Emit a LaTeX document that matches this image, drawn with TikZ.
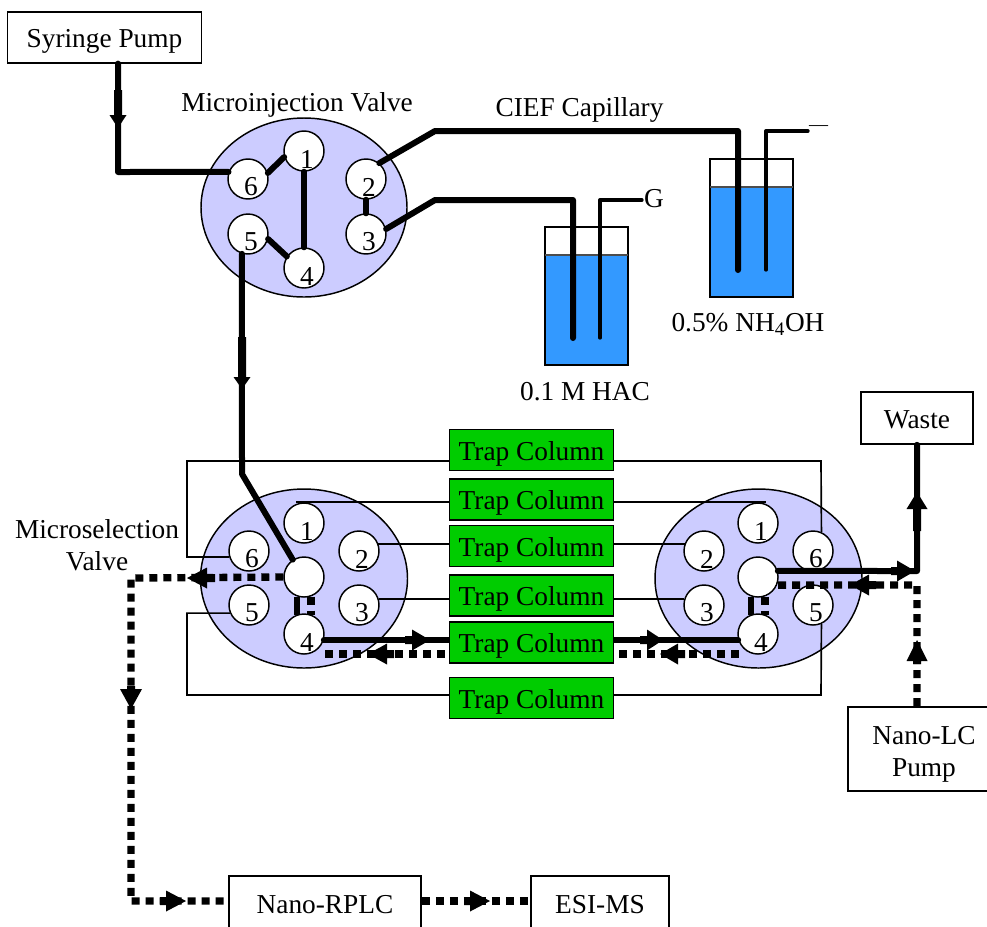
\documentclass[tikz,border=0pt]{standalone}
\usepackage{fontspec}
\setmainfont{Liberation Serif}
\usetikzlibrary{calc}
\definecolor{valvefill}{RGB}{204,204,255}
\definecolor{trapgreen}{RGB}{0,204,0}
\definecolor{waterblue}{RGB}{51,153,255}
\tikzset{
  txt/.style={font=\fontsize{20.5}{24}\selectfont, inner sep=0pt, text=black},
  box/.style={txt, draw=black, line width=1.2pt, fill=white, minimum width=#1, inner sep=0pt, align=center},
  onel/.style={text height=19.4pt, text depth=4.4pt},
  valve/.style={draw=black, line width=1.1pt, fill=valvefill},
  portc/.style={circle, draw=black, line width=1.1pt, fill=white, minimum size=30pt, inner sep=0pt},
  digit/.style={txt},
  trap/.style={txt, onel, draw=black, line width=1.2pt, fill=trapgreen, minimum width=123pt, minimum height=30.5pt},
  thinl/.style={draw=black, line width=1.25pt},
  thickl/.style={draw=black, line width=4.5pt, line join=round, line cap=round},
  elec/.style={draw=black, line width=2.5pt, line join=round, line cap=round},
  dotl/.style={draw=black, line width=5.5pt, dash pattern=on 6pt off 4.5pt, line join=round},
  dotshort/.style={draw=black, line width=5.5pt, dash pattern=on 6pt off 4.5pt},
  beaker/.style={draw=black, line width=1.5pt},
}
% port: name, x, y, digit
\newcommand{\portnode}[4]{%
  \node[portc] (#1) at (#2,#3) {};
  \node[digit] (#1d) at (#2+3,#3+8) {#4};
}
% arrow tip: x, y, angle, shaft length, head length, half width
\newcommand{\tipmark}[6]{%
  \fill[black, shift={(#1,#2)}, rotate=#3] (0,0) -- (-#5,#6) -- (-#5,-#6) -- cycle
     (-#5,-4) rectangle (-#5-#4,4);
}
\begin{document}
\begin{tikzpicture}[x=0.75pt, y=-0.75pt]
\useasboundingbox (0,0) rectangle (987,926);
\clip (0,0) rectangle (987,926);

% named bends
\coordinate (p1) at (118,172);
\coordinate (capa) at (435,131);
\coordinate (capb) at (738,131);
\coordinate (capc) at (738,270);
\coordinate (capd) at (435,200);
\coordinate (cape) at (573,200);
\coordinate (capf) at (573,338);
\coordinate (ela) at (766,270);
\coordinate (elb) at (766,131);
\coordinate (elc) at (808,131);
\coordinate (eld) at (600,338);
\coordinate (ele) at (600,200);
\coordinate (elf) at (642,200);
\coordinate (bend) at (242,474);
\coordinate (lA) at (187,461);
\coordinate (rA) at (821,461);
\coordinate (lB) at (187,695);
\coordinate (rB) at (821,695);
\coordinate (bone) at (296,502);
\coordinate (cone) at (766,502);
\coordinate (dL) at (325,654);
\coordinate (dR) at (745,654);
\coordinate (bL) at (131,578);
\coordinate (bD) at (131,901);
\coordinate (rC) at (917,571);
\coordinate (rD) at (917,585);

% beakers
\fill[waterblue] (545,255) rectangle (628,365);
\draw[beaker] (545,227) rectangle (628,365);
\draw[line width=1pt, black!70] (545,255) -- (628,255);
\fill[waterblue] (710,187) rectangle (793,297);
\draw[beaker] (710,159) rectangle (793,297);
\draw[line width=1pt, black!70] (710,187) -- (793,187);

% valve bodies
\draw[valve] (304,207.5) ellipse [x radius=103, y radius=89.5];
\draw[valve] (304,578.5) ellipse [x radius=103.5, y radius=89.5];
\draw[valve] (758.5,578.5) ellipse [x radius=103.5, y radius=89.5];

% boxes
\node[box=145.5pt, onel, minimum height=38pt] (syr) at (104.5,37.5) {Syringe Pump};
\node[box=84pt, onel, minimum height=39pt] (waste) at (917,418) {Waste};
\node[box=114pt, minimum height=63pt] (nlc) at (924,749) {\rule{0pt}{22pt}Nano-LC\\Pump};
\node[box=144pt, onel, minimum height=40.5pt] (rplc) at (325,903) {Nano-RPLC};
\node[box=103.5pt, onel, minimum height=40.5pt] (esi) at (600,903) {ESI-MS};

\path (531.5,450) coordinate (t1c) (531.5,499.5) coordinate (t2c) (531.5,546) coordinate (t3c)
      (531.5,595.5) coordinate (t4c) (531.5,642.5) coordinate (t5c) (531.5,698) coordinate (t6c);

% ports
\portnode{a1}{304}{151}{1}
\portnode{a2}{366}{179}{2}
\portnode{a3}{366}{234}{3}
\portnode{a4}{304}{268}{4}
\portnode{a5}{248}{234}{5}
\portnode{a6}{248}{179}{6}
\portnode{b1}{304}{523}{1}
\portnode{b2}{359}{551}{2}
\portnode{b3}{359}{605}{3}
\portnode{b4}{304}{634}{4}
\portnode{b5}{249}{605}{5}
\portnode{b6}{249}{551}{6}
\node[portc] (bc) at (304,577) {};
\portnode{c1}{758}{523}{1}
\portnode{c2}{704}{551}{2}
\portnode{c3}{704}{605}{3}
\portnode{c4}{758}{634}{4}
\portnode{c5}{813}{605}{5}
\portnode{c6}{813}{551}{6}
\node[portc] (cc) at (758,577) {};

% thin column plumbing
\draw[thinl] (b6.197) -| (lA) -- (rA) -- (c6.66);
\draw[thinl] (bone) -- (cone);
\draw[thinl] (b2.20) -- (c2.160);
\draw[thinl] (b3.17) -- (c3.163);
\draw[thinl] (b5.203) -| (lB) -- (rB) -- (c5.-66);

% thick flow
\draw[thickl] (b4.-17) -- (c4.197);
\draw[dotl] (dL) -- (dR);

% trap columns
\node[trap] (t1) at (t1c) {Trap Column};
\node[trap] (t2) at (t2c) {Trap Column};
\node[trap] (t3) at (t3c) {Trap Column};
\node[trap] (t4) at (t4c) {Trap Column};
\node[trap] (t5) at (t5c) {Trap Column};
\node[trap] (t6) at (t6c) {Trap Column};

% microinjection valve connections
\draw[thickl] (syr.south -| p1) -- (p1) -- (a6.160);
\draw[thickl] (a6.17) -- (a1.197);
\draw[thickl] (a1.south) -- (a4.north);
\draw[thickl] (a5.-14) -- (a4.146);
\draw[thickl] (a2.south) -- (a3.north);
\draw[thickl] (a2.50) -- (capa) -- (capb) -- (capc);
\draw[thickl] (a3.14) -- (capd) -- (cape) -- (capf);
\draw[elec] (ela) -- (elb) -- (elc);
\draw[elec] (eld) -- (ele) -- (elf);
\draw[thickl] (a5.-107) -- (bend) -- (bc.123);

% selection valve internal links
\draw[thickl, line cap=butt] (bc.-110) -- (b4.110);
\draw[dotshort] (bc.-70) -- (b4.70);
\draw[thickl, line cap=butt] (cc.-110) -- (c4.110);
\draw[dotshort] (cc.-70) -- (c4.70);

% outgoing paths
\draw[dotl] (bc.west) -- (bL) -- (bD) -- (bD -| rplc.west);
\draw[dotl] (bD -| rplc.east) -- (bD -| esi.west);
\draw[thickl] (cc.17) -- (rC) -- (rC |- waste.south);
\draw[dotl] (rD |- nlc.north) -- (rD) -- (cc.-23);

% arrow heads
\tipmark{118}{128}{-90}{25}{13}{8.5}
\tipmark{242}{389}{-90}{40}{12}{8.5}
\tipmark{430}{640}{0}{7}{18}{10.5}
\tipmark{663}{640}{0}{7}{16}{10.5}
\tipmark{368}{654}{180}{7}{19}{10.5}
\tipmark{660}{654}{180}{7}{18}{10.5}
\tipmark{187}{578}{180}{8}{20}{10.5}
\tipmark{131}{709}{-90}{3}{20}{11}
\tipmark{186}{901}{0}{6}{20}{10.5}
\tipmark{490}{901}{0}{6}{20}{10.5}
\tipmark{915}{571}{0}{6}{18}{10.5}
\tipmark{850}{585}{180}{7}{19}{10.5}
\tipmark{917}{492}{90}{22}{17}{10.5}
\tipmark{917}{640}{90}{3}{21}{10.5}

% labels
\node[txt] (lab1) at (297,105) {Microinjection Valve};
\node[txt] (lab2) at (579.5,110) {CIEF Capillary};
\node[txt] (lab3) at (654,199) {G};
\node[txt, font=\fontsize{14.25}{16}\selectfont] (lab4) at (818.5,128) {—};
\node[txt] (lab5) at (585,392) {0.1 M HAC};
\node[txt] (lab6) at (748,324) {0.5\% NH\textsubscript{4}OH};
\node[txt, align=center] (lab7) at (97,545) {Microselection\\Valve};
\end{tikzpicture}
\end{document}
